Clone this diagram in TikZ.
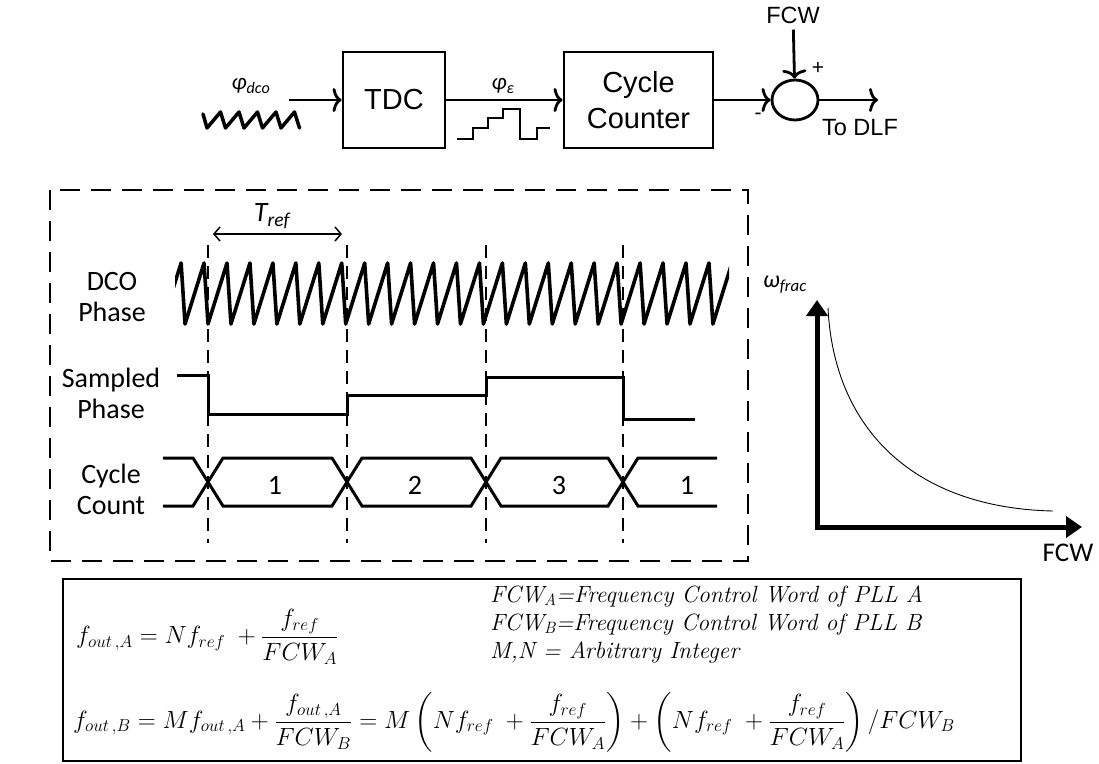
\documentclass[tikz,border=0pt]{standalone}
\usepackage{fontspec}
\usepackage{amsmath}
\usetikzlibrary{arrows.meta,positioning,calc,shapes.geometric}
\newfontfamily\arialfont{Liberation Sans}
\newfontfamily\califont{Carlito}
\tikzset{
  >={Computer Modern Rightarrow[length=9pt,width=24pt]},
  blk/.style={draw, line width=2.8pt, inner sep=0pt, align=center, font=\arialfont\fontsize{29}{36}\selectfont},
  sig/.style={->, line width=2.8pt},
  tag/.style={font=\arialfont\fontsize{23.5}{27}\selectfont, inner sep=1pt},
  wave/.style={line width=3.6pt, line join=round, line cap=round},
  level/.style={line width=3pt, line join=miter},
  guide/.style={line width=1.5pt, dash pattern=on 13pt off 8pt},
  frame/.style={line width=2pt, dash pattern=on 20pt off 11pt},
  lbl/.style={font=\califont\fontsize{28}{31}\selectfont, align=center, inner sep=0pt},
  num/.style={font=\califont\fontsize{28}{31}\selectfont, inner sep=0pt, anchor=base},
  axis/.style={{Triangle[length=16pt,width=21pt]}-{Triangle[length=16pt,width=21pt]}, line width=5pt},
  span/.style={{Straight Barb[length=6pt,width=14pt]}-{Straight Barb[length=6pt,width=14pt]}, line width=1.5pt}
}
\begin{document}
\begin{tikzpicture}[x=1pt,y=-1pt]
  \useasboundingbox (0,0) rectangle (1099,763);
  % block chain
  \coordinate (fin) at (289,100);
  \node[blk, minimum width=102pt, minimum height=96pt] (tdc) at (394,100) {TDC};
  \node[blk, minimum width=149pt, minimum height=96pt] (cc) at (638.5,100) {Cycle\\Counter};
  \node[draw, ellipse, line width=2.8pt, minimum width=46pt, minimum height=40pt, inner sep=0pt] (sum) at (795,100) {};
  \node[tag] (fcw) at (793,15) {FCW};
  \coordinate (fout) at (878,100);
  \node[tag] (dlf) at (860,128) {To DLF};
  \node[tag, font=\arialfont\fontsize{21}{25}\selectfont] (plus) at (818,68) {+};
  \node[tag, font=\arialfont\fontsize{21}{25}\selectfont] (minus) at (758,116) {-};
  \node[font=\califont\itshape\fontsize{23}{27}\selectfont, inner sep=0pt] (phidco) at (251,86) {φ\textsubscript{dco}};
  \node[font=\califont\itshape\fontsize{23}{27}\selectfont, inner sep=0pt] (phie) at (503,86) {φ\textsubscript{ε}};
  \draw[sig] (fin) -- (tdc);
  \draw[sig] (tdc) -- (cc);
  \draw[sig] (cc) -- (sum);
  \draw[sig, shorten <=5pt] (fcw) -- (sum);
  \draw[sig] (sum) -- (fout);
  \draw[wave, line width=3.5pt] (203,114) -- (207,128)
    \foreach \k in {0,...,4} { -- ({207+\k*18.5+13.5},112) -- ({207+(\k+1)*18.5},128) };
  \draw[level, line width=2.6pt] (457,139) -- (473,139) -- (473,128) -- (488,128) -- (488,118) -- (503,118)
    -- (503,109) -- (520,109) -- (520,139) -- (537,139) -- (537,128) -- (550,128);
  % timing
  \draw[frame] (50,190) rectangle (748,561);
  \foreach \gx in {208,347,486,623} \draw[guide] (\gx,245) -- (\gx,543);
  \coordinate (ta) at (213,234);
  \coordinate (tb) at (342,234);
  \draw[span] (ta) -- (tb);
  \node[font=\califont\itshape\fontsize{28}{32}\selectfont, inner sep=0pt] (tref) at (272,216) {T\textsubscript{ref}};
  \begin{scope}
    \clip (175,240) rectangle (729,345);
    \draw[wave] (162.1,324) \foreach \k in {-2,...,22} { -- ({208+\k*22.95+19},263) -- ({208+(\k+1)*22.95},324) };
  \end{scope}
  \draw[level] (177,375) -- (208,375) -- (208,414) -- (347,414) -- (347,395) -- (486,395) -- (486,377)
    -- (623,377) -- (623,419) -- (695,419);
  \draw[level] (163,458) -- (193,458) -- (223,506) -- (332,506) -- (362,458) -- (471,458) -- (501,506)
    -- (608,506) -- (638,458) -- (717,458);
  \draw[level] (163,506) -- (193,506) -- (223,458) -- (332,458) -- (362,506) -- (471,506) -- (501,458)
    -- (608,458) -- (638,506) -- (717,506);
  \node[lbl] (dco) at (112,297) {DCO\\Phase};
  \node[lbl] (smp) at (111,393) {Sampled\\Phase};
  \node[lbl] (cnt) at (111,489) {Cycle\\Count};
  \node[num] (c1) at (275,494) {1};
  \node[num] (c2) at (415,494) {2};
  \node[num] (c3) at (559,494) {3};
  \node[num] (c4) at (687,494) {1};
  % frac plot
  \coordinate (org) at (817,527);
  \coordinate (ytip) at (817,300);
  \coordinate (xtip) at (1082,527);
  \draw[axis] (ytip) -- (org) -- (xtip);
  \draw[line width=0.9pt] (828,308) .. controls (834,430) and (915,508) .. (1053,511);
  \node[font=\califont\itshape\fontsize{24}{28}\selectfont, inner sep=0pt] (wfrac) at (785,285) {ω\textsubscript{frac}};
  \node[lbl, font=\califont\fontsize{27}{30}\selectfont] (fcwx) at (1068,553) {FCW};
  % equations
  \draw[line width=2pt] (63,579) rectangle (1021,761);
  \node[anchor=west, inner sep=0pt, font=\fontsize{24}{28}\selectfont] (eqa) at (76,637)
    {$f_{out\,,A}=Nf_{ref}\;+\dfrac{f_{ref}}{FCW_A}$};
  \node[anchor=west, align=left, inner sep=0pt, font=\itshape\fontsize{23.5}{28}\selectfont] (defs) at (490,624)
    {FCW\textsubscript{A}=Frequency Control Word of PLL A\\FCW\textsubscript{B}=Frequency Control Word of PLL B\\M,N = Arbitrary Integer};
  \node[anchor=west, inner sep=0pt, font=\fontsize{24}{28}\selectfont] (eqb) at (73,722)
    {$f_{out\,,B}=Mf_{out\,,A}+\dfrac{f_{out\,,A}}{FCW_B}=M\left(Nf_{ref}\;+\dfrac{f_{ref}}{FCW_A}\right)+\left(Nf_{ref}\;+\dfrac{f_{ref}}{FCW_A}\right)/FCW_B$};
\end{tikzpicture}
\end{document}
